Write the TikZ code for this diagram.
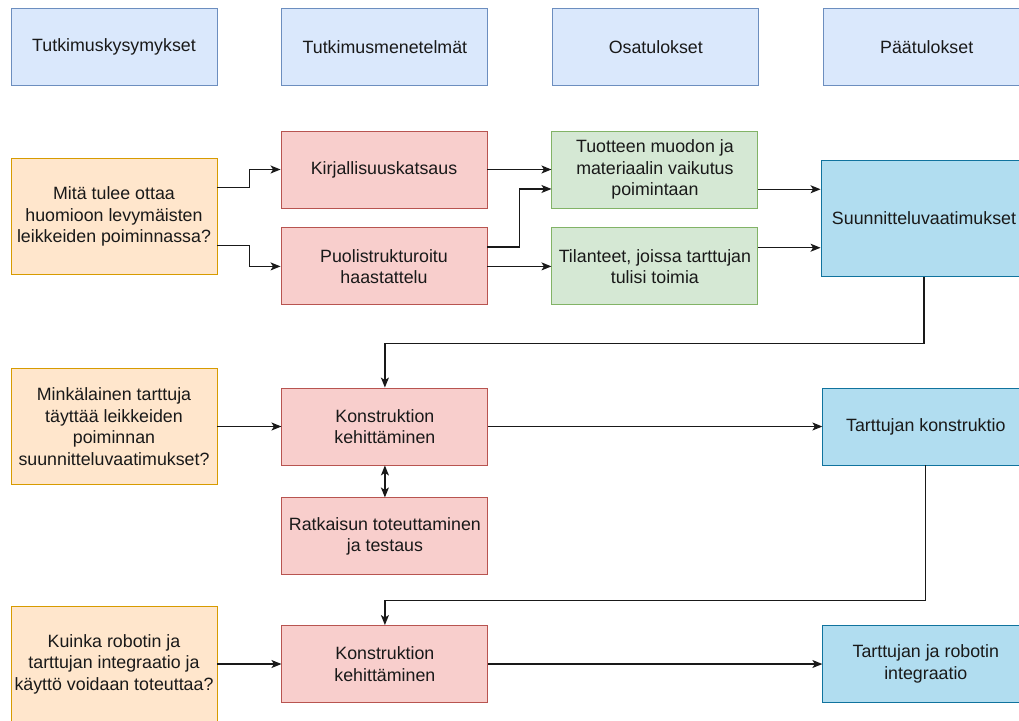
\documentclass[tikz,border=0pt]{standalone}
\usepackage{fontspec}
\setmainfont{Liberation Sans}
\usetikzlibrary{arrows.meta, positioning, calc}

\definecolor{hdrfill}{HTML}{DAE8FC}
\definecolor{hdrdraw}{HTML}{6C8EBF}
\definecolor{qfill}{HTML}{FFE6CC}
\definecolor{qdraw}{HTML}{D79B00}
\definecolor{mfill}{HTML}{F8CECC}
\definecolor{mdraw}{HTML}{B85450}
\definecolor{pfill}{HTML}{D5E8D4}
\definecolor{pdraw}{HTML}{82B366}
\definecolor{rfill}{HTML}{B1DDF0}
\definecolor{rdraw}{HTML}{10739E}

\begin{document}
\begin{tikzpicture}[
    x=1pt, y=-1pt,
    >={Stealth[length=10pt,width=8pt,inset=2.5pt]},
    font=\fontsize{17.8}{21.5}\selectfont,
    box/.style={draw, line width=0.9pt, align=center, text=black!90,
                minimum width=206pt, minimum height=77pt, inner sep=2pt},
    header/.style={box, draw=hdrdraw, fill=hdrfill},
    question/.style={box, draw=qdraw, fill=qfill, minimum height=116pt},
    method/.style={box, draw=mdraw, fill=mfill},
    partial/.style={box, draw=pdraw, fill=pfill},
    result/.style={box, draw=rdraw, fill=rfill},
    link/.style={->, line width=1.2pt, draw=black!90},
]
\useasboundingbox (0,0) rectangle (1019,720);
\clip (0,0) rectangle (1019,720);

% column headers
\node[header] at (114,47)        (h1) {Tutkimuskysymykset};
\node[header, right=64pt of h1]  (h2) {Tutkimusmenetelmät};
\node[header, right=64pt of h2]  (h3) {Osatulokset};
\node[header, right=64pt of h3]  (h4) {Päätulokset};

% first row
\node[question] at (114,216.5)      (q1)     {Mitä tulee ottaa\\huomioon levymäisten\\leikkeiden poiminnassa?};
\node[method] at (384,169.5)        (kirj)   {Kirjallisuuskatsaus};
\node[method, below=19pt of kirj]   (puol)   {Puolistrukturoitu\\haastattelu};
\node[partial, right=64pt of kirj]  (green1) {Tuotteen muodon ja\\materiaalin vaikutus\\poimintaan};
\node[partial, right=64pt of puol]  (green2) {Tilanteet, joissa tarttujan\\tulisi toimia};
\node[result, minimum height=116pt] at (924,218.5) (suun) {Suunnitteluvaatimukset};

% second row
\node[question] at (114,426.5)          (q2)      {Minkälainen tarttuja\\täyttää leikkeiden\\poiminnan\\suunnitteluvaatimukset?};
\node[method, right=64pt of q2]         (konstr1) {Konstruktion\\kehittäminen};
\node[result, right=334pt of konstr1]   (tart)    {Tarttujan konstruktio};
\node[method, below=32pt of konstr1]    (ratk)    {Ratkaisun toteuttaminen\\ja testaus};

% third row
\node[question] at (114,664)            (q3)      {Kuinka robotin ja\\tarttujan integraatio ja\\käyttö voidaan toteuttaa?};
\node[method, right=64pt of q3]         (konstr2) {Konstruktion\\kehittäminen};
\node[result, right=334pt of konstr2]   (integr)  {Tarttujan ja robotin\\integraatio};

% side points on box edges
\coordinate (q1up)   at ($(q1.north east)!0.25!(q1.south east)$);
\coordinate (q1dn)   at ($(q1.north east)!0.75!(q1.south east)$);
\coordinate (puolup) at ($(puol.north east)!0.25!(puol.south east)$);
\coordinate (g1dn)   at ($(green1.north west)!0.75!(green1.south west)$);
\coordinate (suunup) at ($(suun.north west)!0.25!(suun.south west)$);
\coordinate (suundn) at ($(suun.north west)!0.75!(suun.south west)$);

\draw[link] (q1up) -- ++(32,0) |- (kirj.west);
\draw[link] (q1dn) -- ++(32,0) |- (puol.west);
\draw[link] (kirj.east) -- (green1.west);
\draw[link] (puolup) -- ++(32,0) |- (g1dn);
\draw[link] (puol.east) -- (green2.west);
\draw[link] (suunup -| green1.east) -- (suunup);
\draw[link] (suundn -| green2.east) -- (suundn);
\draw[link] (suun.south) -- ++(0,66.5) -| (konstr1.north);

\draw[link] (q2.east) -- (konstr1.west);
\draw[link] (konstr1.east) -- (tart.west);
\draw[link, <->] (konstr1.south) -- (ratk.north);
\draw[link] (tart.south) -- ++(0,135) -| (konstr2.north);

\draw[link] (q3.east) -- (konstr2.west);
\draw[link] (konstr2.east) -- (integr.west);

\end{tikzpicture}
\end{document}
